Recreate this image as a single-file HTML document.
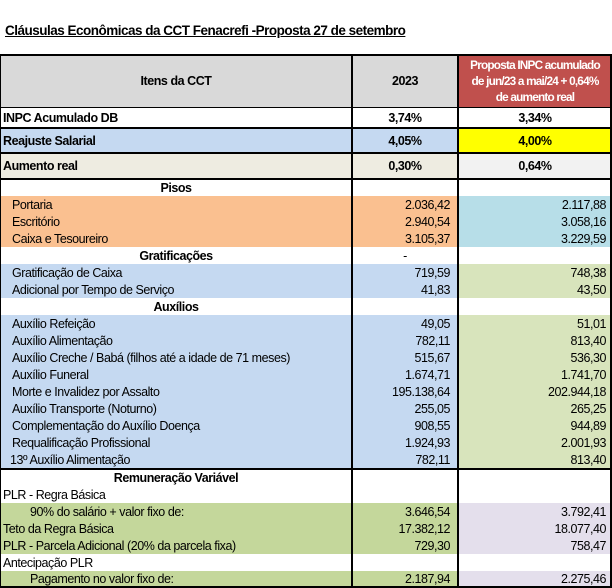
<!DOCTYPE html>
<html><head><meta charset="utf-8"><style>
body{margin:0;width:612px;height:588px;background:#fff;position:relative;overflow:hidden;font-family:"Liberation Sans",Arial,sans-serif;font-size:12.5px;letter-spacing:-0.45px;color:#000}
.r{position:absolute;left:0;width:612px}
.c{position:absolute;top:0;bottom:0;box-sizing:border-box;white-space:nowrap;display:flex;align-items:center}
.c1{left:0;width:352px}.c2{left:352px;width:106px;justify-content:flex-end;padding-right:8px}.c3{left:458px;width:154px;justify-content:flex-end;padding-right:6px}
.ctr{justify-content:center!important;padding-right:0!important}
.b{font-weight:bold}
.vl{position:absolute;width:2px;background:#000}
.hl{position:absolute;left:0;width:612px;height:2px;background:#000}
</style></head><body>
<div style="position:absolute;left:5px;top:23px;font-weight:bold;font-size:13.5px;letter-spacing:-0.5px;text-decoration:underline">Cláusulas Econômicas da CCT Fenacrefi -Proposta 27 de setembro</div>

<div class="r" style="top:55px;height:52px"><div class="c c1 b ctr" style="background:#d9d9d9">Itens da CCT</div><div class="c c2 b ctr" style="background:#d9d9d9">2023</div><div class="c c3 b ctr" style="background:#c0504d;color:#fff;text-align:center;white-space:nowrap;line-height:16px;padding:0;font-size:11.8px;letter-spacing:-0.8px">Proposta INPC acumulado<br>de jun/23 a mai/24 + 0,64%<br>de aumento real</div></div>
<div class="r" style="top:107px;height:21px"><div class="c c1 b" style="padding-left:3px">INPC Acumulado DB</div><div class="c c2 b ctr">3,74%</div><div class="c c3 b ctr">3,34%</div></div>
<div class="r" style="top:128px;height:25px"><div class="c c1 b" style="padding-left:3px;background:#c5d9f1">Reajuste Salarial</div><div class="c c2 b ctr" style="background:#c5d9f1">4,05%</div><div class="c c3 b ctr" style="background:#ffff00">4,00%</div></div>
<div class="r" style="top:153px;height:26px"><div class="c c1 b" style="padding-left:3px;background:#eeece1">Aumento real</div><div class="c c2 b ctr" style="background:#eeece1">0,30%</div><div class="c c3 b ctr" style="background:#f2f2f2">0,64%</div></div>
<div class="r" style="top:179px;height:17px"><div class="c c1 b ctr" style="justify-content:center">Pisos</div></div>

<div class="r" style="top:196px;height:17px"><div class="c c1" style="padding-left:12px;background:#fac090">Portaria</div><div class="c c2" style="background:#fac090">2.036,42</div><div class="c c3" style="background:#b7dee8">2.117,88</div></div>
<div class="r" style="top:213px;height:17px"><div class="c c1" style="padding-left:12px;background:#fac090">Escritório</div><div class="c c2" style="background:#fac090">2.940,54</div><div class="c c3" style="background:#b7dee8">3.058,16</div></div>
<div class="r" style="top:230px;height:17px"><div class="c c1" style="padding-left:12px;background:#fac090">Caixa e Tesoureiro</div><div class="c c2" style="background:#fac090">3.105,37</div><div class="c c3" style="background:#b7dee8">3.229,59</div></div>
<div class="r" style="top:247px;height:17px"><div class="c c1 b" style="justify-content:center">Gratificações</div><div class="c c2 ctr">-</div></div>
<div class="r" style="top:264px;height:17px"><div class="c c1" style="padding-left:12px;background:#c5d9f1">Gratificação de Caixa</div><div class="c c2" style="background:#c5d9f1">719,59</div><div class="c c3" style="background:#d8e4bc">748,38</div></div>
<div class="r" style="top:281px;height:17px"><div class="c c1" style="padding-left:12px;background:#c5d9f1">Adicional por Tempo de Serviço</div><div class="c c2" style="background:#c5d9f1">41,83</div><div class="c c3" style="background:#d8e4bc">43,50</div></div>
<div class="r" style="top:298px;height:17px"><div class="c c1 b" style="justify-content:center">Auxílios</div></div>
<div class="r" style="top:315px;height:17px"><div class="c c1" style="padding-left:12px;background:#c5d9f1">Auxílio Refeição</div><div class="c c2" style="background:#c5d9f1">49,05</div><div class="c c3" style="background:#d8e4bc">51,01</div></div>
<div class="r" style="top:332px;height:17px"><div class="c c1" style="padding-left:12px;background:#c5d9f1">Auxílio Alimentação</div><div class="c c2" style="background:#c5d9f1">782,11</div><div class="c c3" style="background:#d8e4bc">813,40</div></div>
<div class="r" style="top:349px;height:17px"><div class="c c1" style="padding-left:12px;background:#c5d9f1">Auxílio Creche / Babá (filhos até a idade de 71 meses)</div><div class="c c2" style="background:#c5d9f1">515,67</div><div class="c c3" style="background:#d8e4bc">536,30</div></div>
<div class="r" style="top:366px;height:17px"><div class="c c1" style="padding-left:12px;background:#c5d9f1">Auxílio Funeral</div><div class="c c2" style="background:#c5d9f1">1.674,71</div><div class="c c3" style="background:#d8e4bc">1.741,70</div></div>
<div class="r" style="top:383px;height:17px"><div class="c c1" style="padding-left:12px;background:#c5d9f1">Morte e Invalidez por Assalto</div><div class="c c2" style="background:#c5d9f1">195.138,64</div><div class="c c3" style="background:#d8e4bc">202.944,18</div></div>
<div class="r" style="top:400px;height:17px"><div class="c c1" style="padding-left:12px;background:#c5d9f1">Auxílio Transporte (Noturno)</div><div class="c c2" style="background:#c5d9f1">255,05</div><div class="c c3" style="background:#d8e4bc">265,25</div></div>
<div class="r" style="top:417px;height:17px"><div class="c c1" style="padding-left:12px;background:#c5d9f1">Complementação do Auxílio Doença</div><div class="c c2" style="background:#c5d9f1">908,55</div><div class="c c3" style="background:#d8e4bc">944,89</div></div>
<div class="r" style="top:434px;height:17px"><div class="c c1" style="padding-left:12px;background:#c5d9f1">Requalificação Profissional</div><div class="c c2" style="background:#c5d9f1">1.924,93</div><div class="c c3" style="background:#d8e4bc">2.001,93</div></div>
<div class="r" style="top:451px;height:17px"><div class="c c1" style="padding-left:10px;background:#c5d9f1">13º Auxílio Alimentação</div><div class="c c2" style="background:#c5d9f1">782,11</div><div class="c c3" style="background:#d8e4bc">813,40</div></div>

<div class="r" style="top:469px;height:17px"><div class="c c1 b" style="justify-content:center">Remuneração Variável</div></div>
<div class="r" style="top:486px;height:17px"><div class="c c1" style="padding-left:3px">PLR - Regra Básica</div></div>
<div class="r" style="top:503px;height:17px"><div class="c c1" style="padding-left:30px;background:#c4d79b">90% do salário + valor fixo de:</div><div class="c c2" style="background:#c4d79b">3.646,54</div><div class="c c3" style="background:#e4dfec">3.792,41</div></div>
<div class="r" style="top:520px;height:17px"><div class="c c1" style="padding-left:3px;background:#c4d79b">Teto da Regra Básica</div><div class="c c2" style="background:#c4d79b">17.382,12</div><div class="c c3" style="background:#e4dfec">18.077,40</div></div>
<div class="r" style="top:537px;height:17px"><div class="c c1" style="padding-left:3px;background:#c4d79b">PLR - Parcela Adicional (20% da parcela fixa)</div><div class="c c2" style="background:#c4d79b">729,30</div><div class="c c3" style="background:#e4dfec">758,47</div></div>
<div class="r" style="top:554px;height:17px"><div class="c c1" style="padding-left:3px">Antecipação PLR</div></div>
<div class="r" style="top:571px;height:16px"><div class="c c1" style="padding-left:30px;background:#c4d79b">Pagamento no valor fixo de:</div><div class="c c2" style="background:#c4d79b">2.187,94</div><div class="c c3" style="background:#e4dfec">2.275,46</div></div>

<div class="hl" style="top:54px"></div>
<div class="hl" style="top:107px;height:1px"></div>
<div class="hl" style="top:127px;height:2px"></div>
<div class="hl" style="top:152px;height:2px"></div>
<div class="hl" style="top:178px;height:2px"></div>
<div class="hl" style="top:468px;height:2px"></div>
<div class="hl" style="top:586px;height:2px"></div>
<div class="vl" style="left:0;top:54px;height:534px;width:1px"></div>
<div class="vl" style="left:351px;top:54px;height:534px"></div>
<div class="vl" style="left:457px;top:54px;height:534px"></div>
<div class="vl" style="left:610px;top:54px;height:534px"></div>
</body></html>
